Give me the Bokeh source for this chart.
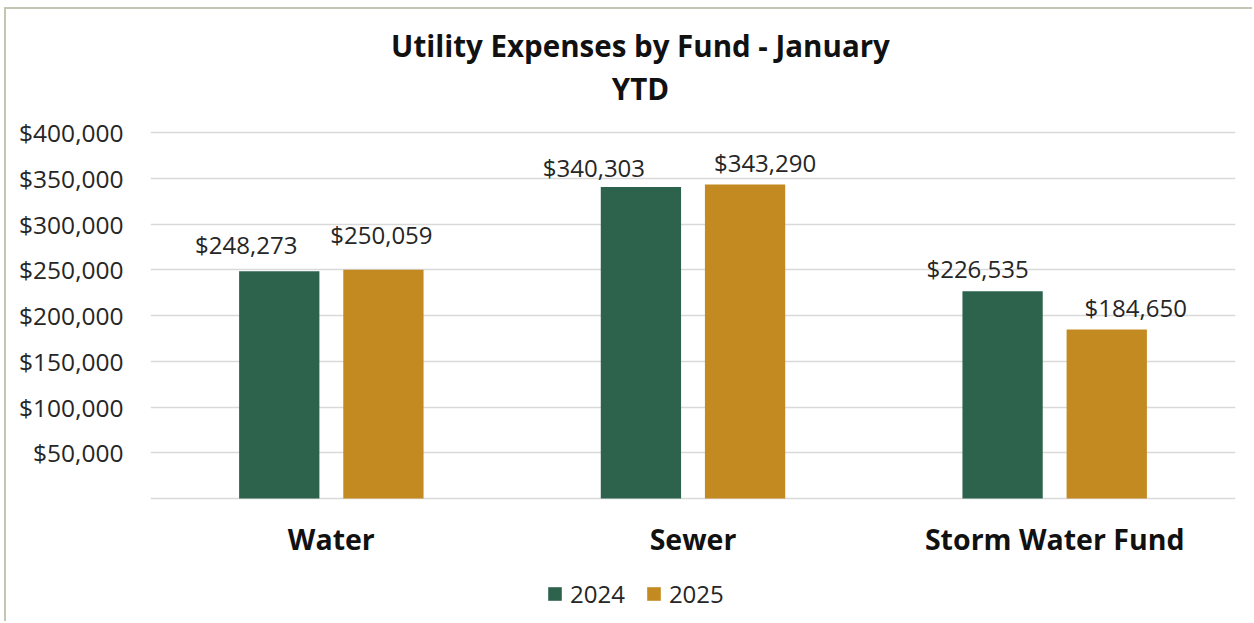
from bokeh.plotting import figure
from bokeh.models import (ColumnDataSource, FactorRange, Range1d, FixedTicker,
                          NumeralTickFormatter, Label, Legend, LegendItem)
from bokeh.transform import dodge
from bokeh.core.properties import value
from bokeh.embed import file_html
from bokeh.resources import INLINE

# ---- data ----
funds = ["Water", "Sewer", "Storm Water Fund"]
series_names = ["2024", "2025"]
values_2024 = [248273, 340303, 226535]
values_2025 = [250059, 343290, 184650]
y_ticks = [50000, 100000, 150000, 200000, 250000, 300000, 350000, 400000]
title_lines = ["Utility Expenses by Fund - January", "YTD"]

# ---- styling ----
GREEN = "#2D634D"
GOLD = "#C48A22"
FONT = "Open Sans"
TEXT_COLOR = "#262626"
GRID = "#D9D9D9"

# label nudges (pixels) to mimic the original label placement
dx_2024 = [-33, -47, -25]
dy_2024 = [-27, -20, -23]
dx_2025 = [-2, 20, 29]
dy_2025 = [-35, -22, -22]

fmt = lambda v: "${:,}".format(v)

src24 = ColumnDataSource(dict(fund=funds, val=values_2024,
                              lab=[fmt(v) for v in values_2024],
                              dx=dx_2024, dy=dy_2024))
src25 = ColumnDataSource(dict(fund=funds, val=values_2025,
                              lab=[fmt(v) for v in values_2025],
                              dx=dx_2025, dy=dy_2025))

W, H = 1248, 614
# Frame fills the canvas vertically: baseline (0) sits 489 px below the canvas
# top and 125 px above its bottom; 400,000 sits 366 px above the baseline.
PX = 366 / 400000
p = figure(width=W, height=H, output_backend="svg", toolbar_location=None,
           x_range=FactorRange(*funds, range_padding=0),
           y_range=Range1d(-125 / PX, 489 / PX),
           x_axis_location=None,
           min_border_left=144, min_border_right=19,
           min_border_top=0, min_border_bottom=0)
p.styles = {"margin-left": "4px", "margin-top": "7px",
            "border-top": "2px solid #C4C5B3", "border-left": "2px solid #C4C5B3"}
p.outline_line_color = None
p.background_fill_color = "white"
p.border_fill_color = "white"

BW = 0.222
OFF = 0.144
r24 = p.vbar(x=dodge("fund", -OFF, range=p.x_range), top="val", width=BW,
             source=src24, fill_color=GREEN, line_color=None)
r25 = p.vbar(x=dodge("fund", OFF, range=p.x_range), top="val", width=BW,
             source=src25, fill_color=GOLD, line_color=None)

for s, o in ((src24, -OFF), (src25, OFF)):
    p.text(x=dodge("fund", o, range=p.x_range), y="val", text="lab", source=s,
           x_offset="dx", y_offset="dy", text_align="center",
           text_baseline="alphabetic", text_font=value(FONT),
           text_font_size="24px", text_color=TEXT_COLOR)

# category labels under the baseline
cat_src = ColumnDataSource(dict(fund=funds, base=[0] * len(funds)))
p.text(x="fund", y="base", text="fund", source=cat_src, y_offset=40,
       text_align="center", text_baseline="alphabetic",
       text_font=value(FONT), text_font_size="28.5px",
       text_font_style="bold", text_color="#111111")

# grid
p.xgrid.grid_line_color = None
p.ygrid.ticker = FixedTicker(ticks=[0] + y_ticks)
p.ygrid.grid_line_color = GRID
p.ygrid.grid_line_width = 1.5

# y axis
p.yaxis.ticker = FixedTicker(ticks=y_ticks)
p.yaxis.formatter = NumeralTickFormatter(format="$0,0")
p.yaxis.axis_line_color = None
p.yaxis.major_tick_line_color = None
p.yaxis.minor_tick_line_color = None
p.yaxis.major_tick_out = 0
p.yaxis.major_tick_in = 0
p.yaxis.major_label_standoff = 27
p.yaxis.major_label_text_font = FONT
p.yaxis.major_label_text_font_size = "24.5px"
p.yaxis.major_label_text_color = TEXT_COLOR

# title (two lines, centred on the whole chart box)
for txt, yy in zip(title_lines, (578, 535)):
    p.add_layout(Label(x=490, y=yy, x_units="screen", y_units="screen", text=txt,
                       text_align="center", text_baseline="middle",
                       text_font=FONT, text_font_size="29.5px",
                       text_font_style="bold", text_color="#111111"))

# legend
legend = Legend(items=[LegendItem(label=series_names[0], renderers=[r24]),
                       LegendItem(label=series_names[1], renderers=[r25])],
                location=(396, 13), orientation="horizontal",
                glyph_width=17, glyph_height=17, label_standoff=7, spacing=20,
                padding=0, margin=0, border_line_color=None,
                background_fill_alpha=0,
                label_text_font=FONT, label_text_font_size="24px",
                label_text_color=TEXT_COLOR)
p.add_layout(legend, "center")

open("out.html", "w").write(file_html(p, INLINE))
